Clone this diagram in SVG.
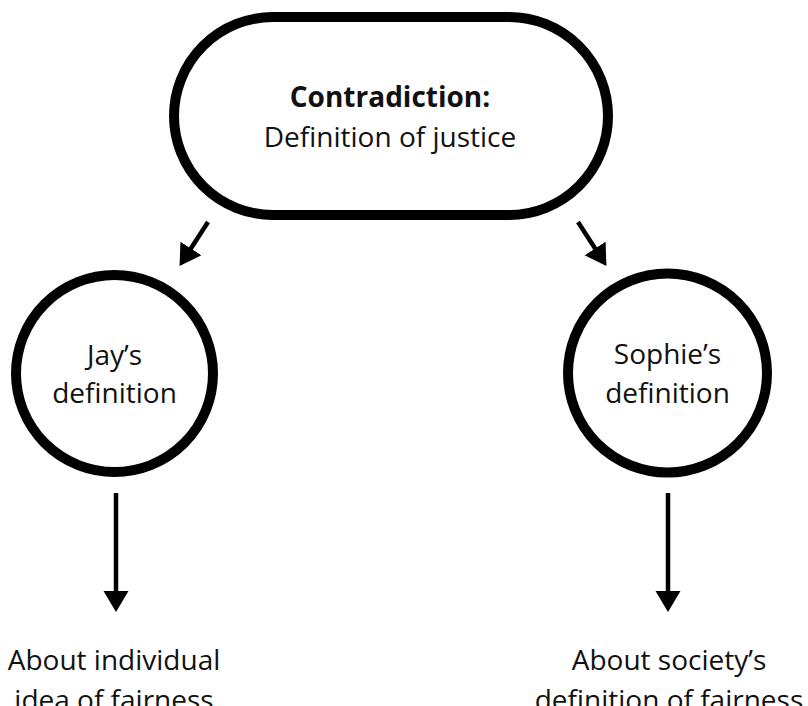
<svg xmlns="http://www.w3.org/2000/svg" width="808" height="706" viewBox="0 0 808 706">
<style>
.node{fill:#fff;stroke:#000;stroke-width:10}
.t{font-family:"Open Sans","Noto Sans",sans-serif;font-size:28px;fill:#111;text-anchor:middle}
.b{font-weight:bold}
.edge{stroke:#000;stroke-width:4.5;fill:none}
</style>
<defs>
<marker id="ah" markerUnits="userSpaceOnUse" markerWidth="22" markerHeight="26" refX="1" refY="12.5" orient="auto">
<path d="M0,0 L21,12.5 L0,25 Z" fill="#000"/>
</marker>
</defs>
<rect width="808" height="706" fill="#fff"/>
<g id="connectors">
<line class="edge" x1="208" y1="222" x2="190.4" y2="249.3" marker-end="url(#ah)"/>
<line class="edge" x1="578" y1="222" x2="595.6" y2="249.3" marker-end="url(#ah)"/>
<line class="edge" x1="116" y1="493" x2="116" y2="592" marker-end="url(#ah)"/>
<line class="edge" x1="668" y1="493" x2="668" y2="592" marker-end="url(#ah)"/>
</g>
<g id="contradiction">
<rect class="node" x="174" y="17" width="434" height="198" rx="99" ry="99"/>
<text class="t b" x="390" y="107">Contradiction:</text>
<text class="t" x="390" y="147">Definition of justice</text>
</g>
<g id="jay">
<circle class="node" cx="114.5" cy="373.5" r="98.5"/>
<text class="t" x="114.5" y="365">Jay’s</text>
<text class="t" x="114.5" y="403">definition</text>
</g>
<g id="sophie">
<circle class="node" cx="667.5" cy="373" r="99.5"/>
<text class="t" x="667.5" y="364">Sophie’s</text>
<text class="t" x="667.5" y="403">definition</text>
</g>
<g id="jay-result">
<text class="t" x="114" y="670">About individual</text>
<text class="t" x="114" y="710">idea of fairness</text>
</g>
<g id="sophie-result">
<text class="t" x="669" y="670">About society’s</text>
<text class="t" x="669" y="710">definition of fairness</text>
</g>
</svg>
